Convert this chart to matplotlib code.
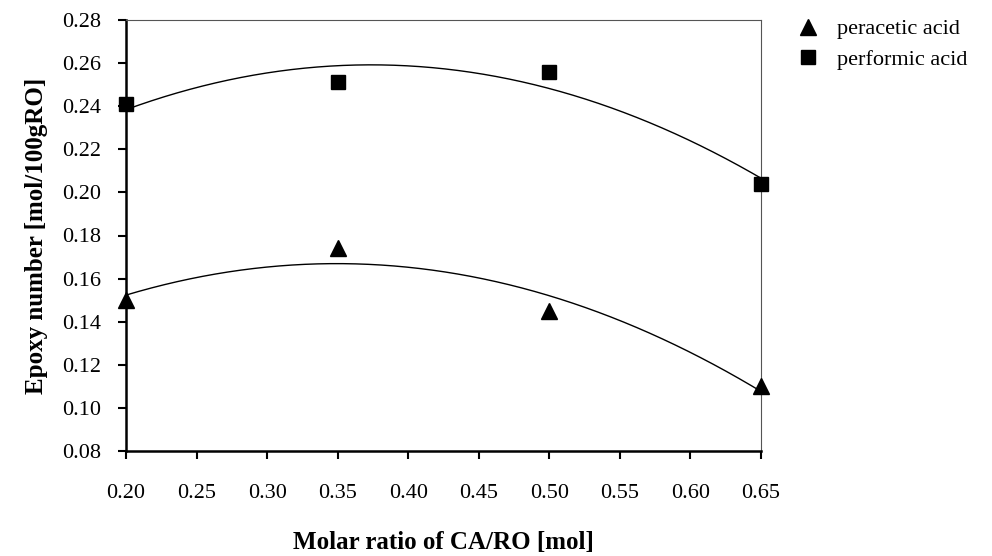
import numpy as np
import matplotlib
matplotlib.use("Agg")
import matplotlib.pyplot as plt

plt.rcParams['font.family'] = ['Liberation Serif', 'DejaVu Serif']

x = [0.20, 0.35, 0.50, 0.65]
peracetic = [0.150, 0.174, 0.145, 0.110]
performic = [0.241, 0.251, 0.256, 0.204]
xticks = [0.20, 0.25, 0.30, 0.35, 0.40, 0.45, 0.50, 0.55, 0.60, 0.65]
yticks = [0.08, 0.10, 0.12, 0.14, 0.16, 0.18, 0.20, 0.22, 0.24, 0.26, 0.28]

fig = plt.figure(figsize=(9.92, 5.56), dpi=100)
ax = fig.add_axes([126/992, 1-451/556, (761-126)/992, (451-20)/556])

xs = np.linspace(0.20, 0.65, 200)
for y in (peracetic, performic):
    c = np.polyfit(x, y, 2)
    ax.plot(xs, np.polyval(c, xs), color='black', lw=1.0, zorder=2)

ax.plot(x, peracetic, linestyle='none', marker='^', color='black', ms=11, label='peracetic acid', zorder=3, clip_on=False)
ax.plot(x, performic, linestyle='none', marker='s', color='black', ms=10, label='performic acid', zorder=3, clip_on=False)

ax.set_xlim(0.20, 0.65)
ax.set_ylim(0.08, 0.28)
ax.set_xticks(xticks)
ax.set_xticklabels([f"{v:.2f}" for v in xticks])
ax.set_yticks(yticks)
ax.set_yticklabels([f"{v:.2f}" for v in yticks])
ax.tick_params(direction='out', length=6, width=1.5, labelsize=16, pad=12)
ax.tick_params(axis='x', pad=18)
for s in ('left', 'bottom'):
    ax.spines[s].set_linewidth(1.8)
for s in ('top', 'right'):
    ax.spines[s].set_linewidth(0.8)
    ax.spines[s].set_color('#555555')

ax.set_xlabel('Molar ratio of CA/RO [mol]', fontsize=18, fontweight='bold', labelpad=20)
ax.set_ylabel('Epoxy number [mol/100gRO]', fontsize=18, fontweight='bold', labelpad=10)

ax.legend(loc='upper left', bbox_to_anchor=(1.025, 1.049), frameon=False, fontsize=16,
          handlelength=1.0, handletextpad=0.8, labelspacing=0.45)

fig.savefig('out.png', dpi=100, facecolor='white')
